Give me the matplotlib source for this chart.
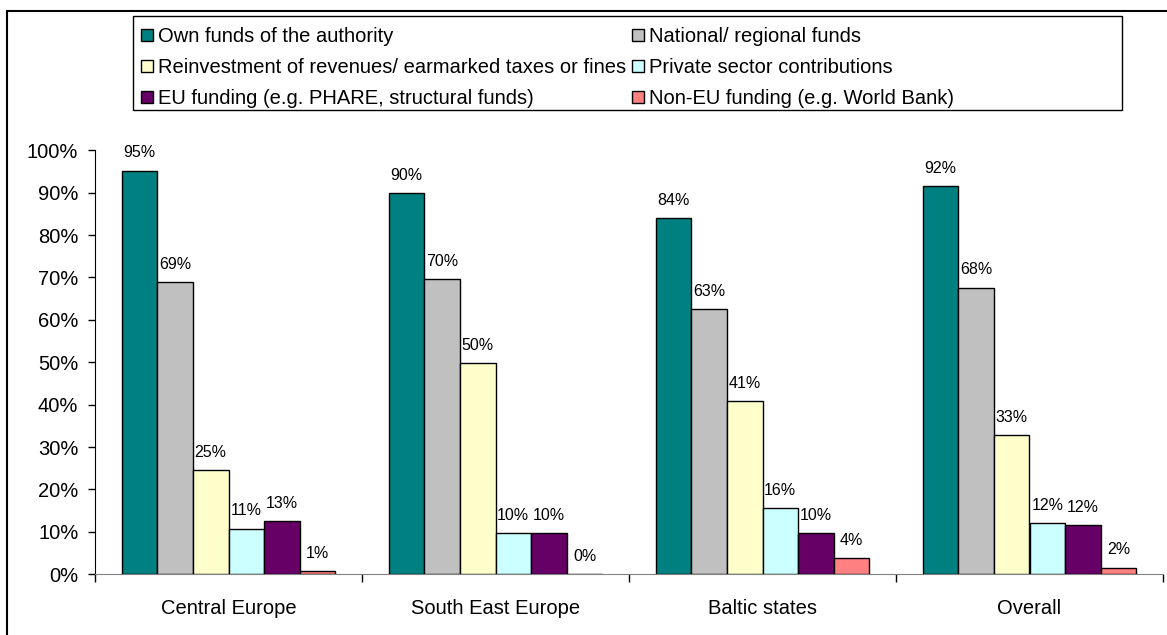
import matplotlib
matplotlib.use('Agg')
import matplotlib.pyplot as plt
from matplotlib.patches import Rectangle
import numpy as np

plt.rcParams['font.family'] = ['Liberation Sans', 'DejaVu Sans']

# data (share of authorities using each source)
regions = ['Central Europe', 'South East Europe', 'Baltic states', 'Overall']
sources = ['Own funds of the authority',
           'National/ regional funds',
           'Reinvestment of revenues/ earmarked taxes or fines',
           'Private sector contributions',
           'EU funding (e.g. PHARE, structural funds)',
           'Non-EU funding (e.g. World Bank)']
own_funds = [0.952, 0.899, 0.840, 0.916]
national = [0.689, 0.696, 0.626, 0.676]
reinvest = [0.246, 0.499, 0.409, 0.329]
private = [0.108, 0.098, 0.156, 0.120]
eu_funding = [0.126, 0.098, 0.098, 0.116]
non_eu = [0.008, 0.000, 0.038, 0.016]
series = [own_funds, national, reinvest, private, eu_funding, non_eu]
colors = ['#008080', '#C0C0C0', '#FFFFCC', '#CCFFFF', '#660066', '#FF8080']

W, H = 1167, 635
fig = plt.figure(figsize=(W / 100, H / 100), dpi=100)
ax = fig.add_axes([95 / W, 1 - 574.3 / H, 1068 / W, 424 / H])

x = np.arange(len(regions))
bw = 0.8 / len(series)
bars = []
for k, (vals, col) in enumerate(zip(series, colors)):
    pos = x + (k - 2.5) * bw
    b = ax.bar(pos, vals, bw, color=col, edgecolor='black', linewidth=1.0, label=sources[k], zorder=3)
    bars.append(b)
    for xx, v in zip(pos, vals):
        ax.annotate('{:.0%}'.format(v), (xx, v), xytext=(0, 9.5), textcoords='offset points',
                    ha='center', va='baseline', fontsize=11.5)

ax.set_xlim(-0.5, len(regions) - 0.5)
ax.set_ylim(0, 1)
ax.set_yticks(np.arange(0, 1.01, 0.1))
ax.set_yticklabels(['{:.0%}'.format(t) for t in np.arange(0, 1.01, 0.1)], fontsize=14.5)
ax.tick_params(axis='y', direction='out', length=5, width=1, pad=7)

# ticks at group boundaries, labels at group centres
ax.set_xticks(np.arange(-0.5, len(regions), 1.0))
ax.set_xticklabels([])
ax.set_xticks(x, minor=True)
ax.set_xticklabels(regions, minor=True, fontsize=14.5)
ax.tick_params(axis='x', which='major', direction='out', length=6, width=1)
ax.tick_params(axis='x', which='minor', length=0, pad=18)

for s in ['top', 'right']:
    ax.spines[s].set_visible(False)
ax.spines['left'].set_color('black')
ax.spines['bottom'].set_color('#808080')

# legend, row-wise order as in the original
order = [0, 2, 4, 1, 3, 5]
leg = fig.legend([bars[i] for i in order], [sources[i] for i in order], ncol=2,
                 loc='upper left', bbox_to_anchor=(141 / W, 1 - 27 / H),
                 frameon=False, fontsize=14.5, borderpad=0, borderaxespad=0,
                 handlelength=0.6, handleheight=0.6, handletextpad=0.25,
                 columnspacing=0.3, labelspacing=0.6)
fig.patches.append(Rectangle((133 / W, 1 - 110 / H), (1122 - 133) / W, (110 - 16) / H,
                             transform=fig.transFigure, fill=False, edgecolor='black', linewidth=1.0))
# outer chart frame (cut off on right and bottom)
fig.patches.append(Rectangle((7 / W, -0.05), 1.1, 1.05 - 11 / H,
                             transform=fig.transFigure, fill=False, edgecolor='black', linewidth=1.5))

fig.savefig('out.png', dpi=100)
